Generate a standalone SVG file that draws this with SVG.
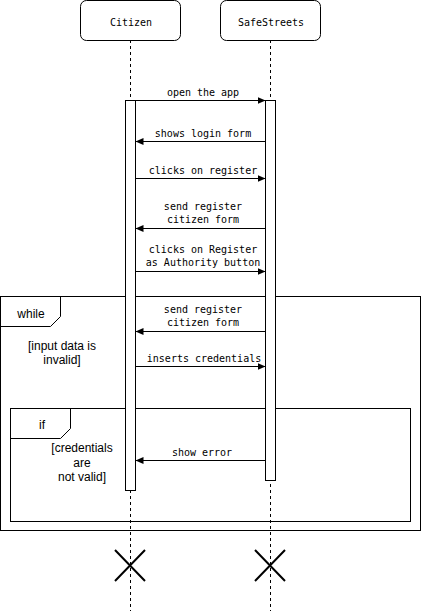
<svg xmlns="http://www.w3.org/2000/svg" width="422" height="611" viewBox="0 0 422 611">
<style>
.box{fill:#fff;stroke:#000;stroke-width:1}
.life{stroke:#000;stroke-width:1;stroke-dasharray:3 3;fill:none}
.act{fill:#fff;stroke:#000;stroke-width:1}
.msg{stroke:#000;stroke-width:1;fill:none;marker-end:url(#ah)}
.frame{fill:none;stroke:#000;stroke-width:1}
.mono{font-family:"DejaVu Sans Mono",monospace;font-size:10px;fill:#000;text-anchor:middle}
.sans{font-family:"Liberation Sans",Arial,sans-serif;font-size:12px;fill:#000;text-anchor:middle}
.x{stroke:#000;stroke-width:2;fill:none}
</style>
<defs>
<marker id="ah" markerWidth="10" markerHeight="10" refX="8" refY="4" orient="auto" markerUnits="userSpaceOnUse">
<path d="M0,0.5 L8,4 L0,7.5 Z" fill="#000"/>
</marker>
</defs>
<g id="lifelines">
<line class="life" x1="130.5" y1="40" x2="130.5" y2="611"/>
<line class="life" x1="270.5" y1="40" x2="270.5" y2="611"/>
</g>
<g id="frame-while">
<rect class="frame" x="0.5" y="296.5" width="420" height="234"/>
<path class="frame" d="M0.5,326.5 L50.5,326.5 L60.5,316.5 L60.5,296.5"/>
<text class="sans" x="31" y="318">while</text>
<text class="sans" x="62" y="350">[input data is</text>
<text class="sans" x="62" y="364">invalid]</text>
</g>
<g id="frame-if">
<rect class="frame" x="10.5" y="408.5" width="400" height="113"/>
<path class="frame" d="M10.5,438.5 L60.5,438.5 L70.5,428.5 L70.5,408.5"/>
<text class="sans" x="42" y="429">if</text>
<text class="sans" x="82" y="452">[credentials</text>
<text class="sans" x="82" y="467">are</text>
<text class="sans" x="82" y="481">not valid]</text>
</g>
<g id="citizen">
<rect class="box" x="80.5" y="0.5" width="100" height="40" rx="6" ry="6"/>
<text class="mono" x="131" y="26">Citizen</text>
<rect class="act" x="125.5" y="100.5" width="10" height="390"/>
<path class="x" d="M115,550 L145,581 M145,550 L115,581"/>
</g>
<g id="safestreets">
<rect class="box" x="220.5" y="0.5" width="100" height="40" rx="6" ry="6"/>
<text class="mono" x="271" y="26">SafeStreets</text>
<rect class="act" x="265.5" y="100.5" width="10" height="380"/>
<path class="x" d="M255,550 L285,581 M285,550 L255,581"/>
</g>
<g id="connectors">
<line class="msg" x1="135.5" y1="100.5" x2="265.5" y2="100.5"/>
<text class="mono" x="203" y="96">open the app</text>
<line class="msg" x1="265.5" y1="141.5" x2="135.5" y2="141.5"/>
<text class="mono" x="203" y="137">shows login form</text>
<line class="msg" x1="135.5" y1="178.5" x2="265.5" y2="178.5"/>
<text class="mono" x="203" y="174">clicks on register</text>
<line class="msg" x1="265.5" y1="228.5" x2="135.5" y2="228.5"/>
<text class="mono" x="203" y="210">send register</text>
<text class="mono" x="203" y="223">citizen form</text>
<line class="msg" x1="135.5" y1="271.5" x2="265.5" y2="271.5"/>
<text class="mono" x="203" y="253">clicks on Register</text>
<text class="mono" x="203" y="266">as Authority button</text>
<line class="msg" x1="265.5" y1="331.5" x2="135.5" y2="331.5"/>
<text class="mono" x="203" y="313">send register</text>
<text class="mono" x="203" y="326">citizen form</text>
<line class="msg" x1="135.5" y1="366.5" x2="265.5" y2="366.5"/>
<text class="mono" x="204" y="362">inserts credentials</text>
<line class="msg" x1="265.5" y1="460.5" x2="135.5" y2="460.5"/>
<text class="mono" x="202" y="456">show error</text>
</g>
</svg>
